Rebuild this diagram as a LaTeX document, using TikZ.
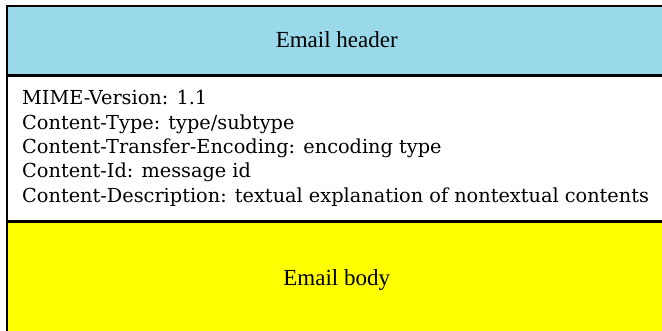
\documentclass[tikz,border=0pt]{standalone}
\usepackage{fontspec}
\setmainfont{Liberation Serif}
\newfontfamily\fieldfont{DejaVu Serif}
\usepackage{xcolor}
\usetikzlibrary{positioning}
\definecolor{hdrblue}{RGB}{153,217,234}
\definecolor{bodyyellow}{RGB}{255,255,0}
\tikzset{
  part/.style={draw, line width=1.5pt, minimum width=660pt, inner sep=0pt, font=\fontsize{23}{27}\selectfont},
  fieldline/.style={anchor=west, inner sep=0pt, align=left, font=\fieldfont\fontsize{19.3}{24.3}\selectfont},
}

\begin{document}
\begin{tikzpicture}[x=1pt,y=1pt]
  \useasboundingbox (0,0) rectangle (662,-330);
  % Parts of the message
  \node[part, fill=hdrblue, minimum height=68.5pt, anchor=north west] (header) at (6,-5) {Email header};
  \node[part, fill=white, minimum height=145pt, below=0pt of header] (fields) {};
  \node[part, fill=bodyyellow, minimum height=115.5pt, below=0pt of fields] (body) {Email body};
  % MIME header fields
  \node[fieldline] (mime) at ([xshift=16pt]fields.west) {MIME-Version: 1.1\\
    Content-Type: type/subtype\\
    Content-Transfer-Encoding: encoding type\\
    Content-Id: message id\\
    Content-Description: textual explanation of nontextual contents};
\end{tikzpicture}
\end{document}
